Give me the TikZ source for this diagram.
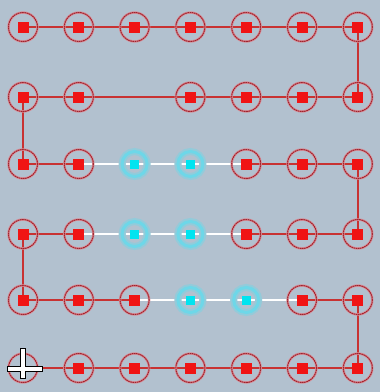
\documentclass[tikz,border=0pt]{standalone}
\usepackage{tikz}
\usetikzlibrary{backgrounds}
\definecolor{panelbg}{RGB}{178,193,207}
\definecolor{wirered}{RGB}{200,50,50}
\definecolor{ringred}{RGB}{160,35,45}
\definecolor{ringpink}{RGB}{215,140,150}
\definecolor{padred}{RGB}{240,20,20}
\definecolor{ringcyan}{RGB}{110,215,232}
\definecolor{padcyan}{RGB}{0,228,240}
\tikzset{
    ring/.style={circle, minimum size=29pt, inner sep=0pt, draw=ringred,
        dash pattern=on 1.6pt off 0.6pt, line width=1pt,
        preaction={draw=ringpink, solid, line width=2.4pt}},
    redpad/.style={ring, path picture={
        \fill[padred] ([shift={(-5.5pt,-5.5pt)}]path picture bounding box.center)
            rectangle ([shift={(5.5pt,5.5pt)}]path picture bounding box.center);}},
    cyanpad/.style={circle, minimum size=25pt, inner sep=0pt, draw=ringcyan,
        line width=3pt,
        preaction={draw=ringcyan!45!panelbg, line width=7pt},
        path picture={
        \fill[padcyan] ([shift={(-4.5pt,-4.5pt)}]path picture bounding box.center)
            rectangle ([shift={(4.5pt,4.5pt)}]path picture bounding box.center);}},
    wire/.style={wirered, line width=1.8pt},
    jumper/.style={white, line width=1.6pt},
}

\begin{document}
\begin{tikzpicture}[x=1pt, y=-1pt]
    % row 1
    \node[redpad] (a1) at (23,27) {};
    \node[redpad] (a2) at (78.8,27) {};
    \node[redpad] (a3) at (134.6,27) {};
    \node[redpad] (a4) at (190.4,27) {};
    \node[redpad] (a5) at (246.2,27) {};
    \node[redpad] (a6) at (302,27) {};
    \node[redpad] (a7) at (357.8,27) {};
    % row 2 (no pad in column 3)
    \node[redpad] (b1) at (23,97) {};
    \node[redpad] (b2) at (78.8,97) {};
    \node[redpad] (b4) at (190.4,97) {};
    \node[redpad] (b5) at (246.2,97) {};
    \node[redpad] (b6) at (302,97) {};
    \node[redpad] (b7) at (357.8,97) {};
    % row 3
    \node[redpad] (c1) at (23,164) {};
    \node[redpad] (c2) at (78.8,164) {};
    \node[cyanpad] (c3) at (134.6,164) {};
    \node[cyanpad] (c4) at (190.4,164) {};
    \node[redpad] (c5) at (246.2,164) {};
    \node[redpad] (c6) at (302,164) {};
    \node[redpad] (c7) at (357.8,164) {};
    % row 4
    \node[redpad] (d1) at (23,234) {};
    \node[redpad] (d2) at (78.8,234) {};
    \node[cyanpad] (d3) at (134.6,234) {};
    \node[cyanpad] (d4) at (190.4,234) {};
    \node[redpad] (d5) at (246.2,234) {};
    \node[redpad] (d6) at (302,234) {};
    \node[redpad] (d7) at (357.8,234) {};
    % row 5
    \node[redpad] (e1) at (23,300) {};
    \node[redpad] (e2) at (78.8,300) {};
    \node[redpad] (e3) at (134.6,300) {};
    \node[cyanpad] (e4) at (190.4,300) {};
    \node[cyanpad] (e5) at (246.2,300) {};
    \node[redpad] (e6) at (302,300) {};
    \node[redpad] (e7) at (357.8,300) {};
    % row 6
    \node[ring] (f1) at (23,368) {};
    \node[redpad] (f2) at (78.8,368) {};
    \node[redpad] (f3) at (134.6,368) {};
    \node[redpad] (f4) at (190.4,368) {};
    \node[redpad] (f5) at (246.2,368) {};
    \node[redpad] (f6) at (302,368) {};
    \node[redpad] (f7) at (357.8,368) {};

    \begin{pgfonlayer}{background}
    \fill[panelbg] (0,0) rectangle (380,392);
    \draw[wire] (a1.center) -- (a2.center) -- (a3.center) -- (a4.center) -- (a5.center) -- (a6.center) -- (a7.center)
        -- (b7.center) -- (b6.center) -- (b5.center) -- (b4.center) -- (b2.center) -- (b1.center)
        -- (c1.center) -- (c2.center);
    \draw[wire] (c5.center) -- (c6.center) -- (c7.center) -- (d7.center) -- (d6.center) -- (d5.center);
    \draw[wire] (d2.center) -- (d1.center) -- (e1.center) -- (e2.center) -- (e3.center);
    \draw[wire] (e6.center) -- (e7.center) -- (f7.center) -- (f6.center) -- (f5.center) -- (f4.center)
        -- (f3.center) -- (f2.center) -- (f1.center);
    \draw[jumper] (c2.center) -- (c3.center) -- (c4.center) -- (c5.center);
    \draw[jumper] (d2.center) -- (d3.center) -- (d4.center) -- (d5.center);
    \draw[jumper] (e3.center) -- (e4.center) -- (e5.center) -- (e6.center);
    \end{pgfonlayer}

    % cursor
    \filldraw[fill=white, draw=black, line width=1pt]
        (20.5,348) -- (25.5,348) -- (25.5,366.5) -- (42,366.5) -- (42,371.5) -- (25.5,371.5)
        -- (25.5,378) -- (20.5,378) -- (20.5,371.5) -- (7,371.5) -- (7,366.5) -- (20.5,366.5) -- cycle;
\end{tikzpicture}
\end{document}
